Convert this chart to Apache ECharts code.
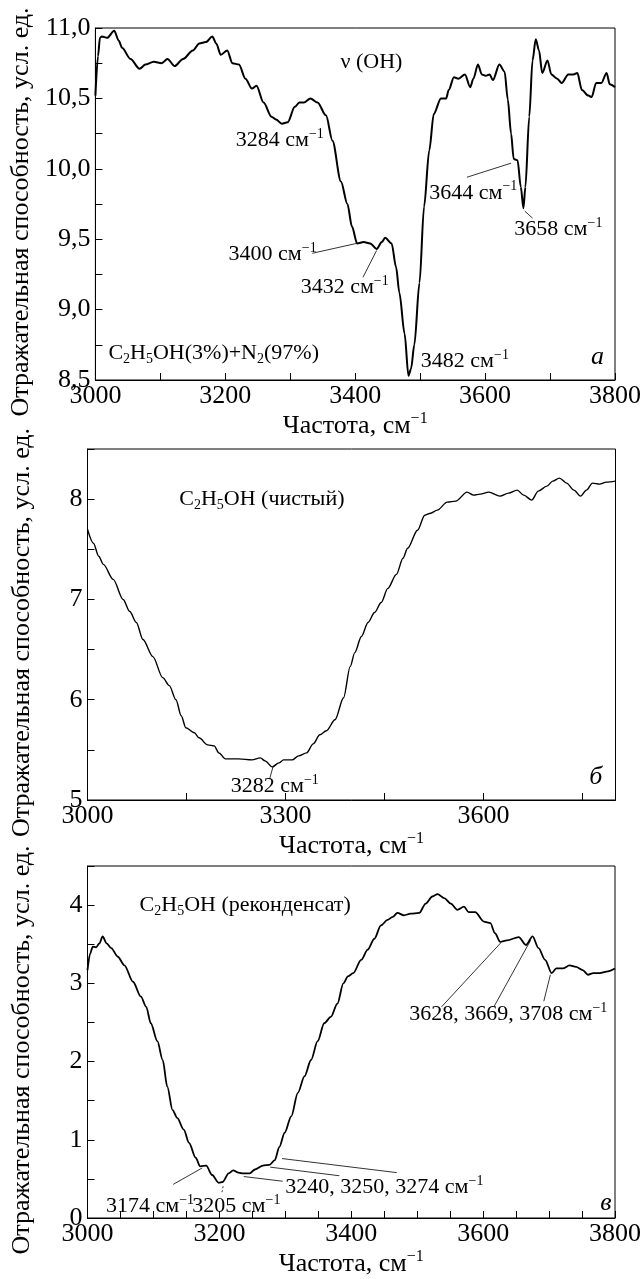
<!DOCTYPE html>
<html>
<head>
<meta charset="utf-8">
<script src="https://cdn.jsdelivr.net/npm/echarts@6/dist/echarts.min.js"></script>
<style>html,body{margin:0;padding:0;background:#fff;}#c{width:644px;height:1279px;}</style>
</head>
<body>
<div id="c"></div>
<script>
// Panel a: C2H5OH(3%)+N2(97%)
const freqA = [3000,3004,3007,3010,3018,3029,3036,3041,3054,3068,3077,3090,3102,3111,3122,3135,3150,3160,3170,3180,3186,3193,3203,3211,3221,3231,3241,3248,3259,3271,3278,3287,3296,3307,3314,3321,3331,3342,3355,3365,3378,3388,3395,3403,3413,3423,3433,3441,3446,3456,3463,3468,3476,3482,3486,3491,3499,3506,3514,3521,3532,3540,3544,3552,3559,3569,3577,3582,3589,3595,3601,3607,3612,3622,3630,3635,3640,3644,3650,3655,3659,3662,3668,3673,3678,3683,3688,3696,3702,3711,3718,3728,3736,3742,3749,3759,3764,3771,3779,3787,3792,3800];
const reflA = [10.52,10.80,10.93,10.94,10.93,10.98,10.91,10.86,10.78,10.71,10.74,10.76,10.75,10.78,10.73,10.78,10.84,10.89,10.90,10.94,10.89,10.81,10.84,10.75,10.74,10.64,10.57,10.59,10.47,10.37,10.35,10.32,10.33,10.44,10.47,10.47,10.50,10.47,10.38,10.20,9.91,9.75,9.59,9.47,9.48,9.47,9.43,9.48,9.51,9.47,9.30,9.12,8.83,8.53,8.58,8.75,9.19,9.73,10.13,10.39,10.50,10.50,10.56,10.65,10.64,10.67,10.58,10.64,10.74,10.67,10.66,10.67,10.63,10.74,10.69,10.49,10.25,10.07,10.06,9.87,9.72,9.87,10.37,10.77,10.92,10.84,10.68,10.77,10.67,10.64,10.61,10.67,10.67,10.68,10.56,10.52,10.51,10.61,10.61,10.68,10.60,10.58];

// Panel b: C2H5OH (pure)
const freqB = [3000,3009,3017,3024,3039,3054,3064,3074,3084,3099,3114,3124,3134,3142,3149,3162,3169,3182,3192,3199,3209,3229,3249,3262,3269,3280,3290,3297,3310,3320,3332,3342,3352,3362,3375,3388,3398,3405,3415,3425,3435,3445,3455,3468,3478,3485,3500,3511,3520,3530,3545,3558,3575,3585,3595,3608,3625,3638,3651,3661,3673,3683,3696,3705,3715,3726,3737,3747,3756,3765,3776,3786,3800];
const reflB = [7.70,7.56,7.43,7.35,7.20,7.00,6.88,6.77,6.60,6.43,6.22,6.14,6.00,5.84,5.72,5.67,5.62,5.55,5.54,5.47,5.41,5.41,5.40,5.42,5.39,5.33,5.37,5.40,5.40,5.44,5.47,5.56,5.65,5.69,5.80,6.02,6.33,6.47,6.63,6.77,6.87,6.97,7.11,7.25,7.41,7.51,7.69,7.84,7.86,7.89,7.97,7.98,8.07,8.04,8.05,8.07,8.03,8.06,8.09,8.04,7.99,8.08,8.13,8.18,8.21,8.16,8.09,8.03,8.09,8.16,8.15,8.17,8.18];

// Panel c: C2H5OH (recondensate)
const freqC = [3000,3004,3008,3013,3018,3023,3029,3036,3046,3056,3069,3081,3089,3096,3106,3114,3121,3129,3136,3146,3154,3164,3171,3180,3189,3199,3205,3214,3221,3229,3236,3246,3254,3266,3276,3284,3291,3299,3309,3319,3329,3339,3349,3359,3369,3379,3388,3395,3403,3415,3425,3435,3445,3455,3463,3470,3480,3490,3503,3513,3523,3531,3541,3551,3561,3571,3578,3588,3601,3611,3618,3626,3636,3654,3665,3675,3684,3694,3704,3711,3721,3731,3741,3751,3759,3767,3777,3787,3800];
const reflC = [3.17,3.38,3.47,3.46,3.51,3.60,3.51,3.45,3.34,3.23,3.02,2.83,2.70,2.49,2.26,2.02,1.68,1.38,1.28,1.13,0.96,0.77,0.66,0.67,0.55,0.45,0.46,0.57,0.61,0.58,0.57,0.57,0.62,0.67,0.68,0.74,0.91,1.09,1.30,1.60,1.81,2.02,2.26,2.49,2.57,2.74,3.00,3.09,3.13,3.30,3.43,3.57,3.74,3.81,3.85,3.90,3.87,3.89,3.90,4.02,4.11,4.14,4.09,4.02,3.94,3.98,3.91,3.91,3.79,3.77,3.64,3.53,3.55,3.59,3.49,3.60,3.45,3.30,3.13,3.19,3.19,3.23,3.21,3.17,3.11,3.13,3.13,3.15,3.19];

// Tick label steps
const xLabelStepA = 200, xLabelStepB = 300, xLabelStepC = 200;

const FONT = '"Liberation Serif","Times New Roman",serif';
const RICH = {
  t: {fontFamily: FONT, fontSize: 22, color: '#000', lineHeight: 26},
  sup: {fontFamily: FONT, fontSize: 14, color: '#000', verticalAlign: 'top', lineHeight: 14},
  sub: {fontFamily: FONT, fontSize: 14, color: '#000', verticalAlign: 'bottom', lineHeight: 14},
  it: {fontFamily: FONT, fontSize: 26, color: '#000', fontStyle: 'italic', lineHeight: 28}
};
const NAME_RICH = {
  t: {fontFamily: FONT, fontSize: 26, color: '#000', lineHeight: 30},
  sup: {fontFamily: FONT, fontSize: 16, color: '#000', verticalAlign: 'top', lineHeight: 16}
};
const cm = n => '{t|' + n + ' см}{sup|−1}';

function pt(x, y, text, align) {
  return {coord: [x, y], label: {formatter: text, align: align || 'left'}};
}
function seg(x1, y1, x2, y2, dashed) {
  return [{coord: [x1, y1], lineStyle: {type: dashed ? [2, 2] : 'solid'}}, {coord: [x2, y2]}];
}

function xAxis(idx, step, labStep) {
  return {
    type: 'value', gridIndex: idx, min: 3000, max: 3800, interval: step,
    name: '{t|Частота, см}{sup|−1}', nameLocation: 'middle', nameGap: 31,
    nameTextStyle: {rich: NAME_RICH},
    axisLine: {show: true, lineStyle: {color: '#000', width: 1}},
    axisTick: {show: true, inside: true, length: 7, lineStyle: {color: '#000'}},
    splitLine: {show: false},
    axisLabel: {margin: 3, color: '#000', fontFamily: FONT, fontSize: 26,
      formatter: v => (Math.round(v) % labStep === 0 ? String(Math.round(v)) : '')}
  };
}
function yAxis(idx, min, max, step, labStep, comma) {
  return {
    type: 'value', gridIndex: idx, min: min, max: max, interval: step,
    name: 'Отражательная способность, усл. ед.', nameLocation: 'middle', nameGap: 52,
    nameTextStyle: {fontFamily: FONT, fontSize: 26, color: '#000', padding: [0, 16, 0, 0]},
    axisLine: {show: true, lineStyle: {color: '#000', width: 1}},
    axisTick: {show: true, inside: true, length: 7, lineStyle: {color: '#000'}},
    splitLine: {show: false},
    axisLabel: {margin: 5, color: '#000', fontFamily: FONT, fontSize: 26,
      formatter: v => {
        const k = v / labStep;
        if (Math.abs(k - Math.round(k)) > 1e-6) return '';
        return comma ? v.toFixed(1).replace('.', ',') : String(Math.round(v));
      }}
  };
}
function pairs(xs, ys) { return xs.map((x, i) => [x, ys[i]]); }

function series(idx, xs, ys, w, points, lines) {
  return {
    type: 'line', xAxisIndex: idx, yAxisIndex: idx, data: pairs(xs, ys),
    showSymbol: false, smooth: 0.3, smoothMonotone: 'x',
    lineStyle: {color: '#000', width: w}, silent: true,
    markPoint: {symbol: 'circle', symbolSize: 1, silent: true, itemStyle: {color: 'rgba(0,0,0,0)'},
      label: {show: true, position: 'inside', verticalAlign: 'middle', color: '#000', rich: RICH},
      data: points},
    markLine: {symbol: ['none', 'none'], silent: true, label: {show: false},
      lineStyle: {color: '#000', width: 0.8, type: 'solid'}, data: lines}
  };
}

const chart = echarts.init(document.getElementById('c'), null, {renderer: 'canvas'});
chart.setOption({
  animation: false,
  backgroundColor: '#fff',
  grid: [
    {left: 87.5, right: 28.5, top: 28, height: 352, show: true, borderColor: '#000', borderWidth: 1},
    {left: 87.5, right: 28.5, top: 449, height: 351, show: true, borderColor: '#000', borderWidth: 1},
    {left: 87.5, right: 28.5, top: 866, height: 352, show: true, borderColor: '#000', borderWidth: 1}
  ],
  xAxis: [xAxis(0, 100, xLabelStepA), xAxis(1, 150, xLabelStepB), xAxis(2, 50, xLabelStepC)],
  yAxis: [yAxis(0, 8.5, 11, 0.25, 0.5, true), yAxis(1, 5, 8.5, 0.5, 1, false), yAxis(2, 0, 4.5, 0.5, 1, false)],
  series: [
    series(0, freqA, reflA, 2, [
      pt(3425, 10.76, '{t|ν (OH)}', 'center'),
      pt(3216, 10.20, cm(3284)),
      pt(3205, 9.39, cm(3400)),
      pt(3316, 9.16, cm(3432)),
      pt(3501, 8.63, cm(3482)),
      pt(3514, 9.83, cm(3644)),
      pt(3645, 9.57, cm(3658)),
      pt(3020, 8.69, '{t|C}{sub|2}{t|H}{sub|5}{t|OH(3%)+N}{sub|2}{t|(97%)}'),
      pt(3773, 8.66, '{it|a}', 'center')
    ], [
      seg(3334, 9.40, 3402, 9.47),
      seg(3412, 9.23, 3433, 9.42),
      seg(3572, 9.94, 3640, 10.04),
      seg(3661, 9.70, 3673, 9.65)
    ]),
    series(1, freqB, reflB, 1.4, [
      pt(3139, 8.0, '{t|C}{sub|2}{t|H}{sub|5}{t|OH (чистый)}'),
      pt(3217, 5.14, cm(3282)),
      pt(3770, 5.23, '{it|б}', 'center')
    ], [
      seg(3276, 5.21, 3281, 5.33)
    ]),
    series(2, freqC, reflC, 1.8, [
      pt(3079, 4.0, '{t|C}{sub|2}{t|H}{sub|5}{t|OH (реконденсат)}'),
      pt(3028, 0.15, cm(3174)),
      pt(3159, 0.15, cm(3205)),
      pt(3300, 0.39, cm('3240, 3250, 3274')),
      pt(3488, 2.60, cm('3628, 3669, 3708')),
      pt(3786, 0.19, '{it|в}', 'center')
    ], [
      seg(3130, 0.43, 3174, 0.64),
      seg(3204, 0.33, 3206, 0.42, true),
      seg(3237, 0.53, 3296, 0.47),
      seg(3277, 0.65, 3382, 0.54),
      seg(3295, 0.76, 3469, 0.58),
      seg(3537, 2.70, 3627, 3.52),
      seg(3617, 2.71, 3672, 3.55),
      seg(3692, 2.77, 3702, 3.11)
    ])
  ]
});
</script>
</body>
</html>
